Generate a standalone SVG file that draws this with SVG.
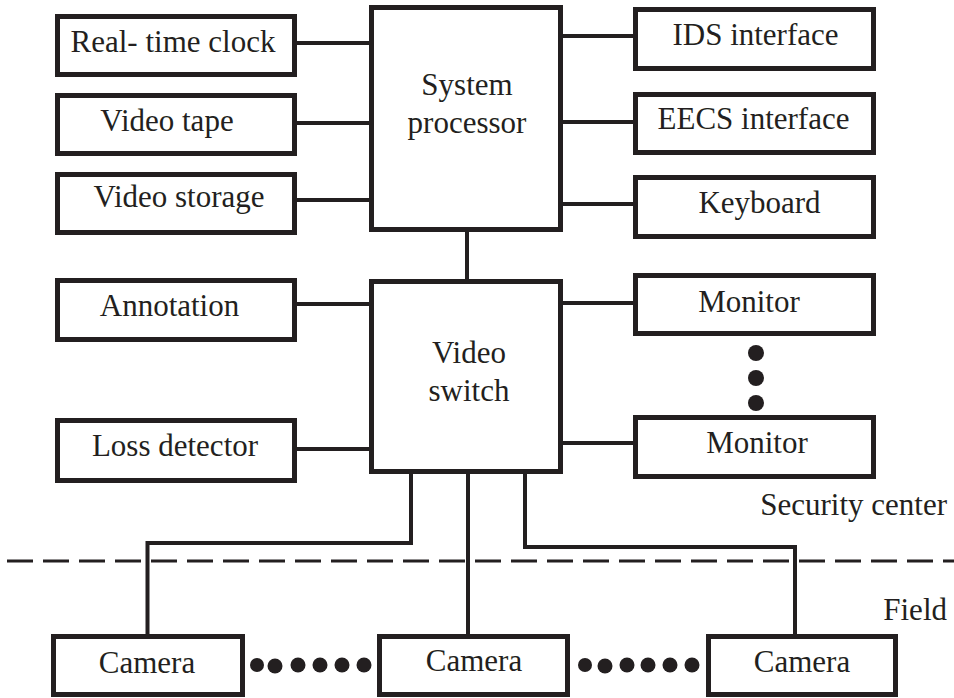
<svg xmlns="http://www.w3.org/2000/svg" width="954" height="698" viewBox="0 0 954 698">
  <style>
    .box { fill: #ffffff; stroke: #231f20; stroke-width: 5; }
    .wire { fill: none; stroke: #231f20; stroke-width: 4; stroke-linejoin: miter; stroke-linecap: square; }
    .boundary { fill: none; stroke: #231f20; stroke-width: 3; stroke-dasharray: 26 10; }
    .dot { fill: #231f20; }
    text { font-family: "Liberation Serif", "Times New Roman", serif; font-size: 31px; fill: #231f20; }
    .c { text-anchor: middle; }
    .r { text-anchor: end; }
  </style>

  <rect width="954" height="698" fill="#ffffff"/>

  <!-- site boundary between security center and field -->
  <line class="boundary" x1="7" y1="561" x2="954" y2="561"/>

  <g id="connectors">
    <!-- system processor peripherals -->
    <line class="wire" x1="297" y1="43" x2="369" y2="43"/>
    <line class="wire" x1="297" y1="123" x2="369" y2="123"/>
    <line class="wire" x1="297" y1="200" x2="369" y2="200"/>
    <line class="wire" x1="563" y1="36" x2="633" y2="36"/>
    <line class="wire" x1="563" y1="122" x2="633" y2="122"/>
    <line class="wire" x1="563" y1="204" x2="633" y2="204"/>
    <!-- processor to switch -->
    <line class="wire" x1="467" y1="232" x2="467" y2="279"/>
    <!-- video switch peripherals -->
    <line class="wire" x1="297" y1="304" x2="369" y2="304"/>
    <line class="wire" x1="297" y1="449" x2="369" y2="449"/>
    <line class="wire" x1="563" y1="303" x2="633" y2="303"/>
    <line class="wire" x1="563" y1="443" x2="633" y2="443"/>
    <!-- camera feeds -->
    <polyline class="wire" points="411,474 411,543 147.5,543 147.5,634"/>
    <line class="wire" x1="468" y1="474" x2="468" y2="634"/>
    <polyline class="wire" points="525,474 525,547 795,547 795,634"/>
  </g>

  <g id="realtime-clock">
    <rect class="box" x="57.5" y="16.5" width="237" height="58"/>
    <text class="c" x="173" y="52">Real- time clock</text>
  </g>
  <g id="video-tape">
    <rect class="box" x="57.5" y="95.5" width="237" height="58"/>
    <text class="c" x="167" y="131">Video tape</text>
  </g>
  <g id="video-storage">
    <rect class="box" x="57.5" y="174.5" width="237" height="58"/>
    <text class="c" x="179" y="207">Video storage</text>
  </g>

  <g id="system-processor">
    <rect class="box" x="371.5" y="7.5" width="189" height="222"/>
    <text class="c" x="467" y="95">System</text>
    <text class="c" x="467" y="133">processor</text>
  </g>

  <g id="ids-interface">
    <rect class="box" x="635.5" y="9.5" width="238" height="59"/>
    <text class="c" x="755.5" y="45">IDS interface</text>
  </g>
  <g id="eecs-interface">
    <rect class="box" x="635.5" y="94.5" width="238" height="58"/>
    <text class="c" x="753.5" y="129">EECS interface</text>
  </g>
  <g id="keyboard">
    <rect class="box" x="635.5" y="177.5" width="238" height="59"/>
    <text class="c" x="759.5" y="213">Keyboard</text>
  </g>

  <g id="annotation">
    <rect class="box" x="57.5" y="280.5" width="237" height="59"/>
    <text class="c" x="169.5" y="316">Annotation</text>
  </g>
  <g id="loss-detector">
    <rect class="box" x="57.5" y="420.5" width="237" height="60"/>
    <text class="c" x="175" y="456">Loss detector</text>
  </g>

  <g id="video-switch">
    <rect class="box" x="371.5" y="281.5" width="189" height="190"/>
    <text class="c" x="469" y="363">Video</text>
    <text class="c" x="469" y="401">switch</text>
  </g>

  <g id="monitor-1">
    <rect class="box" x="635.5" y="275.5" width="238" height="58"/>
    <text class="c" x="749" y="312">Monitor</text>
  </g>
  <g id="monitor-ellipsis">
    <circle class="dot" cx="756" cy="353" r="8"/>
    <circle class="dot" cx="756" cy="378" r="8"/>
    <circle class="dot" cx="756" cy="403" r="8"/>
  </g>
  <g id="monitor-n">
    <rect class="box" x="635.5" y="417.5" width="238" height="59"/>
    <text class="c" x="757" y="453">Monitor</text>
  </g>

  <g id="zone-labels">
    <text class="r" x="947" y="515">Security center</text>
    <text class="r" x="947" y="620">Field</text>
  </g>

  <g id="camera-1">
    <rect class="box" x="53.5" y="636.5" width="189" height="58"/>
    <text class="c" x="147" y="673">Camera</text>
  </g>
  <g id="camera-ellipsis-left">
    <circle class="dot" cx="257" cy="665" r="7"/>
    <circle class="dot" cx="275" cy="666" r="7.5"/>
    <circle class="dot" cx="298" cy="665" r="7.5"/>
    <circle class="dot" cx="320" cy="665" r="7.5"/>
    <circle class="dot" cx="342" cy="665" r="7.5"/>
    <circle class="dot" cx="364" cy="665" r="7.5"/>
  </g>
  <g id="camera-2">
    <rect class="box" x="379.5" y="636.5" width="188" height="58"/>
    <text class="c" x="474" y="671">Camera</text>
  </g>
  <g id="camera-ellipsis-right">
    <circle class="dot" cx="585" cy="665" r="7"/>
    <circle class="dot" cx="605" cy="666" r="7.5"/>
    <circle class="dot" cx="627" cy="665" r="7.5"/>
    <circle class="dot" cx="648" cy="665" r="7.5"/>
    <circle class="dot" cx="670" cy="665" r="7.5"/>
    <circle class="dot" cx="692" cy="665" r="7.5"/>
  </g>
  <g id="camera-3">
    <rect class="box" x="708.5" y="636.5" width="187" height="58"/>
    <text class="c" x="802" y="672">Camera</text>
  </g>
</svg>
